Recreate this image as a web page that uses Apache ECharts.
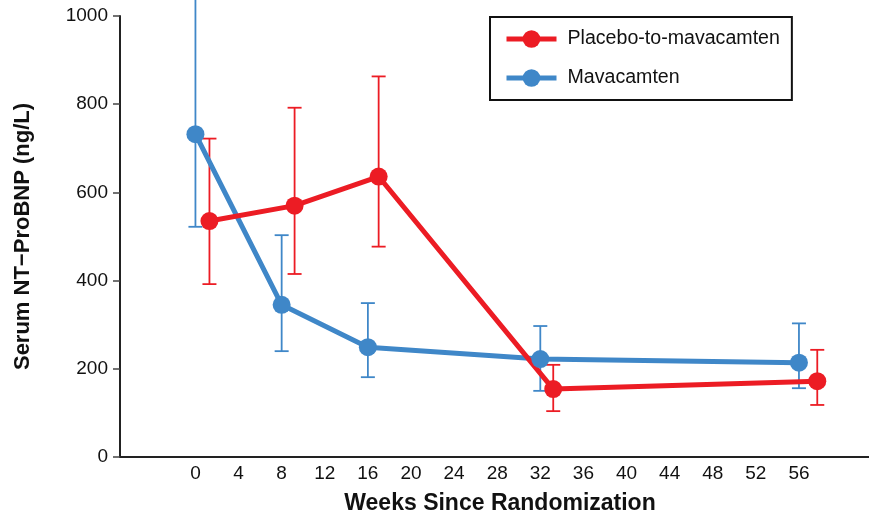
<!DOCTYPE html>
<html>
<head>
<meta charset="utf-8">
<script src="https://cdn.jsdelivr.net/npm/echarts@6/dist/echarts.min.js"></script>
<style>
  html, body { margin: 0; padding: 0; background: #fff; }
  #chart { width: 869px; height: 516px; }
</style>
</head>
<body>
<div id="chart"></div>
<script>
// weeks and values
const weekTicks = [0, 4, 8, 12, 16, 20, 24, 28, 32, 36, 40, 44, 48, 52, 56]

const mavaWeeks = [0, 8, 16, 32, 56]
const mavaMean = [732, 345, 249, 222, 214]
const mavaLow = [522, 240, 181, 150, 156]
const mavaHigh = [1060, 503, 349, 297, 303]

const placWeeks = [1.3, 9.2, 17, 33.2, 57.7]
const placMean = [535, 570, 636, 154, 172]
const placLow = [392, 415, 477, 104, 118]
const placHigh = [722, 792, 863, 209, 243]

const RED = '#ec1c24'
const BLUE = '#3f87c8'
const FONT = '"Liberation Sans", Arial, sans-serif'

const chart = echarts.init(document.getElementById('chart'))

const errorBars = (name, color, weeks, low, high) => ({
  name: name,
  type: 'custom',
  z: 1,
  clip: false,
  silent: true,
  data: weeks.map((w, i) => [w, low[i], high[i]]),
  encode: { x: 0, y: [1, 2] },
  renderItem: (params, api) => {
    const lo = api.coord([api.value(0), api.value(1)])
    const hi = api.coord([api.value(0), api.value(2)])
    const half = 7
    const style = { stroke: color, lineWidth: 1.8 }
    return {
      type: 'group',
      children: [
        { type: 'line', shape: { x1: lo[0], y1: lo[1], x2: hi[0], y2: hi[1] }, style },
        { type: 'line', shape: { x1: lo[0] - half, y1: lo[1], x2: lo[0] + half, y2: lo[1] }, style },
        { type: 'line', shape: { x1: hi[0] - half, y1: hi[1], x2: hi[0] + half, y2: hi[1] }, style }
      ]
    }
  }
})

const lineSeries = (name, color, weeks, mean) => ({
  name: name,
  type: 'line',
  z: 2,
  data: weeks.map((w, i) => [w, mean[i]]),
  symbol: 'circle',
  symbolSize: 18,
  itemStyle: { color: color },
  lineStyle: { color: color, width: 5 },
  emphasis: { disabled: true }
})

const option = {
  animation: false,
  textStyle: { fontFamily: FONT },
  grid: { left: 120, right: 0, top: 16, bottom: 59, outerBoundsMode: 'none', containLabel: false },
  legend: {
    data: ['Placebo-to-mavacamten', 'Mavacamten'],
    orient: 'vertical',
    left: 490,
    top: 17,
    backgroundColor: '#fff',
    borderColor: '#111',
    borderWidth: 2,
    borderRadius: 0,
    padding: [12, 12, 12, 14],
    itemGap: 19,
    itemWidth: 50,
    itemHeight: 22,
    lineStyle: { width: 5 },
    textStyle: { fontSize: 19.6, color: '#111', fontFamily: FONT, padding: [0, 0, 0, 6] }
  },
  xAxis: {
    type: 'value',
    min: -7,
    max: 62.5,
    name: 'Weeks Since Randomization',
    nameLocation: 'middle',
    nameGap: 35,
    nameTextStyle: { fontSize: 23, fontWeight: 'bold', color: '#111', fontFamily: FONT, padding: [0, 0, 0, 11] },
    axisLine: { onZero: false, lineStyle: { color: '#222', width: 2 } },
    axisTick: { show: false },
    splitLine: { show: false },
    axisLabel: {
      customValues: weekTicks,
      fontSize: 19,
      color: '#111',
      margin: 7,
      fontFamily: FONT
    }
  },
  yAxis: {
    type: 'value',
    min: 0,
    max: 1000,
    interval: 200,
    name: 'Serum NT\u2212ProBNP (ng/L)',
    nameLocation: 'middle',
    nameGap: 86,
    nameTextStyle: { fontSize: 22, fontWeight: 'bold', color: '#111', fontFamily: FONT },
    axisLine: { show: true, onZero: false, lineStyle: { color: '#222', width: 2 } },
    axisTick: { show: true, length: 7, lineStyle: { color: '#444', width: 1.5 } },
    splitLine: { show: false },
    axisLabel: { fontSize: 19, color: '#111', margin: 12, fontFamily: FONT, formatter: v => String(v) }
  },
  series: [
    errorBars('mava-err', BLUE, mavaWeeks, mavaLow, mavaHigh),
    errorBars('plac-err', RED, placWeeks, placLow, placHigh),
    lineSeries('Mavacamten', BLUE, mavaWeeks, mavaMean),
    lineSeries('Placebo-to-mavacamten', RED, placWeeks, placMean)
  ]
}

chart.setOption(option)
window.addEventListener('resize', () => chart.resize())
</script>
</body>
</html>
